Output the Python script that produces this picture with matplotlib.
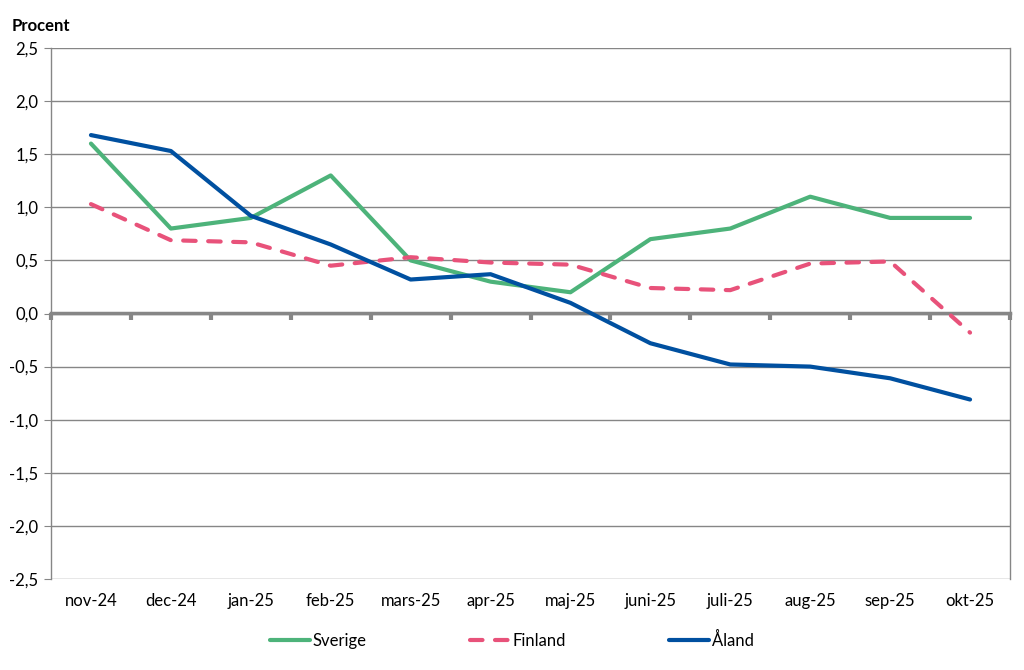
import matplotlib
matplotlib.use("Agg")
import matplotlib.pyplot as plt
from matplotlib.ticker import FuncFormatter

plt.rcParams['font.family'] = ['Lato', 'DejaVu Sans']

months = ['nov-24', 'dec-24', 'jan-25', 'feb-25', 'mars-25', 'apr-25', 'maj-25',
          'juni-25', 'juli-25', 'aug-25', 'sep-25', 'okt-25']
sverige = [1.6, 0.8, 0.9, 1.3, 0.5, 0.3, 0.2, 0.7, 0.8, 1.1, 0.9, 0.9]
finland = [1.03, 0.69, 0.67, 0.45, 0.53, 0.48, 0.46, 0.24, 0.22, 0.47, 0.49, -0.18]
aland = [1.68, 1.53, 0.92, 0.65, 0.32, 0.37, 0.10, -0.28, -0.48, -0.50, -0.61, -0.81]

grey = '#868686'

fig = plt.figure(figsize=(10.24, 6.7), dpi=100)
ax = fig.add_axes([51/1024, 1 - 579/670, (1010 - 51)/1024, (579 - 48)/670])

x = list(range(len(months)))
ax.plot(x, sverige, color='#4DB37A', lw=3, label='Sverige', solid_capstyle='round')
ax.plot(x, finland, color='#E8527A', lw=3, dashes=(3, 3), dash_capstyle='round',
        label='Finland')
ax.plot(x, aland, color='#0050A0', lw=3, label='Åland', solid_capstyle='round')

ax.set_xlim(-0.5, len(months) - 0.5)
ax.set_ylim(-2.5, 2.5)
ax.set_yticks([-2.5, -2.0, -1.5, -1.0, -0.5, 0.0, 0.5, 1.0, 1.5, 2.0, 2.5])
ax.yaxis.set_major_formatter(FuncFormatter(lambda v, p: f'{v:.1f}'.replace('.', ',')))
ax.grid(axis='y', color=grey, lw=1)
ax.set_axisbelow(True)

ax.set_xticks(x)
ax.set_xticklabels(months)
ax.tick_params(axis='x', length=0, pad=10, labelsize=12)
ax.tick_params(axis='y', length=5, color=grey, labelsize=12, pad=4)

for s in ['top', 'bottom']:
    ax.spines[s].set_visible(False)
for s in ['left', 'right']:
    ax.spines[s].set_color(grey)
    ax.spines[s].set_linewidth(1)

# zero axis with category tick marks
sec = ax.secondary_xaxis(0.5)
for s in ['top', 'bottom']:
    sec.spines[s].set_color(grey)
    sec.spines[s].set_linewidth(2.5)
sec.set_xticks([i - 0.5 for i in range(len(months) + 1)])
sec.xaxis.set_ticks_position('bottom')
sec.tick_params(axis='x', which='both', direction='out', length=5, width=3, color=grey,
                labelbottom=False, labeltop=False, top=False, bottom=True)

fig.text(12/1024, 1 - 26/670, 'Procent', fontsize=12, fontweight='bold', va='center')

fig.legend(loc='center', bbox_to_anchor=(0.5, 1 - 640/670), ncol=3, frameon=False,
           fontsize=12, handlelength=2.4, handletextpad=0.15, columnspacing=6.2)

fig.savefig('out.png', dpi=100)
